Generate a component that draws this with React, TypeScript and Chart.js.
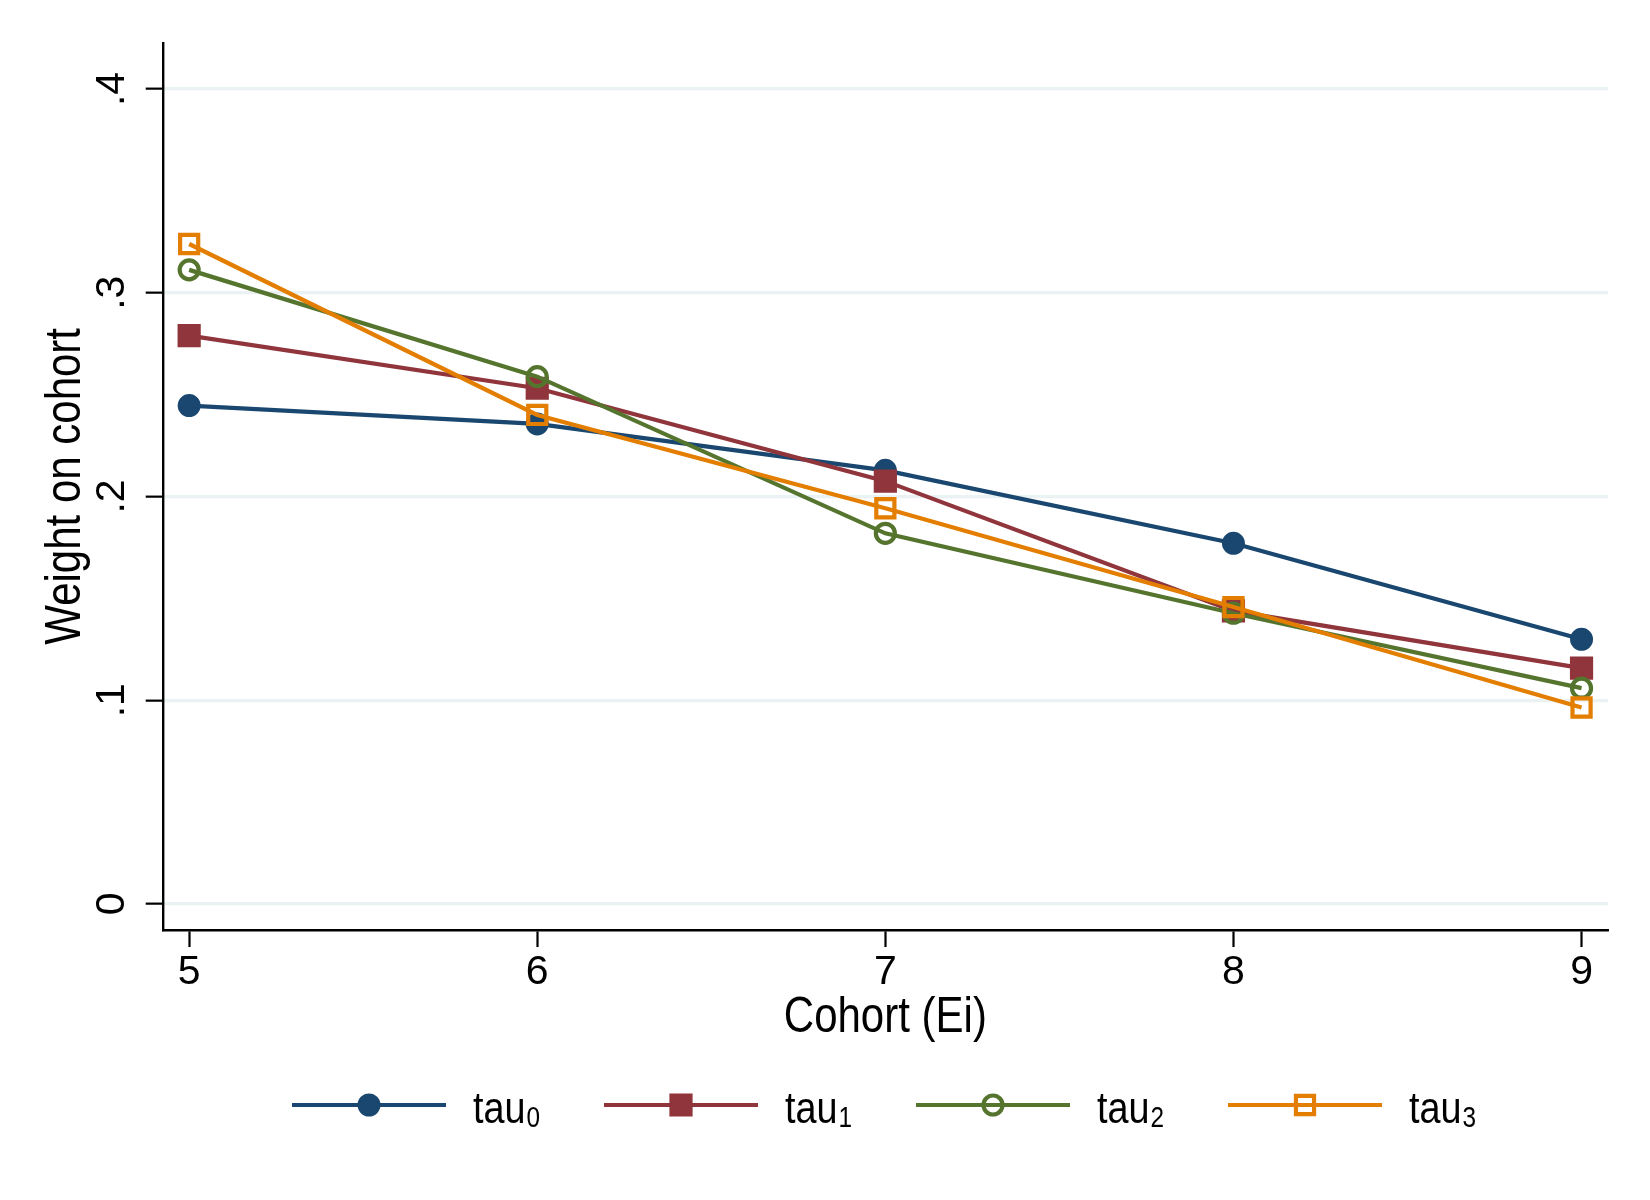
import { useEffect, useRef } from 'react';
import { Chart, registerables } from 'chart.js';
import { drawPoint } from 'chart.js/helpers';

Chart.register(...registerables);

// cohorts on the x axis
const cohorts = [5, 6, 7, 8, 9];

// weight on cohort, one array per series
const tau0 = [0.2446, 0.2356, 0.2128, 0.177, 0.1299];
const tau1 = [0.2789, 0.2531, 0.2075, 0.1438, 0.1157];
const tau2 = [0.3112, 0.2588, 0.1819, 0.1427, 0.1059];
const tau3 = [0.3239, 0.24, 0.1942, 0.1457, 0.0964];

const yTicks = [0, 0.1, 0.2, 0.3, 0.4];
const yTickLabels = ['0', '.1', '.2', '.3', '.4'];

const seriesNames = ['tau', 'tau', 'tau', 'tau'];
const seriesSubs = ['0', '1', '2', '3'];

const xTitle = 'Cohort (Ei)';
const yTitle = 'Weight on cohort';

const FONT = "'Liberation Sans', Arial, sans-serif";
// Stata's Helvetica comes out narrower than Liberation Sans
const SQUEEZE = 0.84;

const toPoints = (ys: number[]) => cohorts.map((c, i) => ({ x: c, y: ys[i] }));

const squeezedText = (
  ctx: CanvasRenderingContext2D,
  text: string,
  x: number,
  y: number,
  size: number,
  align: CanvasTextAlign,
  rotate = 0
) => {
  ctx.save();
  ctx.translate(x, y);
  if (rotate) ctx.rotate(rotate);
  ctx.scale(SQUEEZE, 1);
  ctx.font = `${size}px ${FONT}`;
  ctx.textAlign = align;
  ctx.textBaseline = 'alphabetic';
  ctx.fillStyle = '#000';
  ctx.fillText(text, 0, 0);
  const w = ctx.measureText(text).width * SQUEEZE;
  ctx.restore();
  return w;
};

// axis titles, drawn condensed
const axisTitles = {
  id: 'axisTitles',
  afterDraw(chart: any) {
    const ctx = chart.ctx as CanvasRenderingContext2D;
    const { left, right, top, bottom } = chart.chartArea;
    squeezedText(ctx, xTitle, (left + right) / 2, 1031.5, 50, 'center');
    squeezedText(ctx, yTitle, 80, (top + bottom) / 2, 50, 'center', -Math.PI / 2);
  },
};

// Stata-style legend: short line with the marker in the middle, label with subscript
const stataLegend = {
  id: 'stataLegend',
  afterDraw(chart: any) {
    const ctx = chart.ctx as CanvasRenderingContext2D;
    const y = 1105;
    ctx.save();
    chart.data.datasets.forEach((ds: any, i: number) => {
      const x0 = 292 + i * 312;
      ctx.strokeStyle = ds.borderColor;
      ctx.lineWidth = ds.borderWidth;
      ctx.beginPath();
      ctx.moveTo(x0, y);
      ctx.lineTo(x0 + 154, y);
      ctx.stroke();

      ctx.fillStyle = ds.pointBackgroundColor;
      ctx.strokeStyle = ds.borderColor;
      ctx.lineWidth = ds.pointBorderWidth;
      drawPoint(
        ctx,
        { pointStyle: ds.pointStyle, radius: ds.pointRadius, borderWidth: ds.pointBorderWidth, rotation: 0 },
        x0 + 77,
        y
      );

      const tx = x0 + 181;
      const w = squeezedText(ctx, seriesNames[i], tx, 1123, 45, 'left');
      squeezedText(ctx, seriesSubs[i], tx + w + 1, 1127, 29, 'left');
    });
    ctx.restore();
  },
};

export default function App() {
  const canvasRef = useRef<HTMLCanvasElement | null>(null);
  const chartRef = useRef<Chart | null>(null);

  useEffect(() => {
    if (!canvasRef.current) return;
    if (chartRef.current) chartRef.current.destroy();

    const lineW = 4.2;

    chartRef.current = new Chart(canvasRef.current, {
      type: 'line',
      data: {
        datasets: [
          {
            label: 'tau₀',
            data: toPoints(tau0),
            borderColor: '#1a476f',
            pointBackgroundColor: '#1a476f',
            pointStyle: 'circle',
            pointRadius: 10.5,
            pointBorderWidth: 2,
            borderWidth: lineW,
            order: 3,
          },
          {
            label: 'tau₁',
            data: toPoints(tau1),
            borderColor: '#90353b',
            pointBackgroundColor: '#90353b',
            pointStyle: 'rect',
            pointRadius: 15,
            pointBorderWidth: 2,
            borderWidth: lineW,
            order: 2,
          },
          {
            label: 'tau₂',
            data: toPoints(tau2),
            borderColor: '#55752f',
            pointBackgroundColor: 'rgba(0,0,0,0)',
            pointStyle: 'circle',
            pointRadius: 9.5,
            pointBorderWidth: 4.2,
            borderWidth: lineW,
            order: 1,
          },
          {
            label: 'tau₃',
            data: toPoints(tau3),
            borderColor: '#e37e00',
            pointBackgroundColor: 'rgba(0,0,0,0)',
            pointStyle: 'rect',
            pointRadius: 12.8,
            pointBorderWidth: 4.2,
            borderWidth: lineW,
            order: 0,
          },
        ],
      },
      options: {
        animation: false,
        responsive: true,
        maintainAspectRatio: false,
        devicePixelRatio: 1,
        events: [],
        elements: { line: { tension: 0 } },
        layout: { padding: { left: 0, top: 42.7, right: 42, bottom: 140 } },
        plugins: {
          legend: { display: false },
          tooltip: { enabled: false },
        },
        scales: {
          x: {
            type: 'linear',
            min: 4.924,
            max: 9.076,
            afterBuildTicks: (scale: any) => {
              scale.ticks = cohorts.map((v) => ({ value: v }));
            },
            afterFit: (scale: any) => {
              scale.height = 130;
              scale.paddingLeft = 0;
              scale.paddingRight = 0;
            },
            ticks: {
              color: '#000',
              padding: 1,
              maxRotation: 0,
              font: { family: FONT, size: 41 },
              callback: (v: any) => String(v),
            },
            grid: {
              drawOnChartArea: false,
              drawTicks: true,
              tickLength: 17,
              tickColor: '#000',
              tickWidth: 2.2,
            },
            border: { color: '#000', width: 2.4 },
            title: { display: false, text: xTitle },
          },
          y: {
            type: 'linear',
            min: -0.0128,
            max: 0.4227,
            afterBuildTicks: (scale: any) => {
              scale.ticks = yTicks.map((v) => ({ value: v }));
            },
            afterFit: (scale: any) => {
              scale.width = 162.7;
              scale.paddingTop = 0;
              scale.paddingBottom = 0;
            },
            ticks: {
              color: '#000',
              padding: 16,
              minRotation: 90,
              maxRotation: 90,
              crossAlign: 'center',
              font: { family: FONT, size: 41 },
              callback: (_v: any, i: number) => yTickLabels[i],
            },
            grid: {
              color: '#eaf2f3',
              lineWidth: 3.3,
              tickColor: '#000',
              tickLength: 17,
              tickWidth: 2.2,
            },
            border: { color: '#000', width: 2.4 },
            title: { display: false, text: yTitle },
          },
        },
      },
      plugins: [axisTitles, stataLegend],
    } as any);

    return () => {
      if (chartRef.current) {
        chartRef.current.destroy();
        chartRef.current = null;
      }
    };
  }, []);

  return (
    <div style={{ position: 'absolute', left: 0, top: 0, width: 1650, height: 1200, background: '#fff' }}>
      <canvas ref={canvasRef} />
    </div>
  );
}
